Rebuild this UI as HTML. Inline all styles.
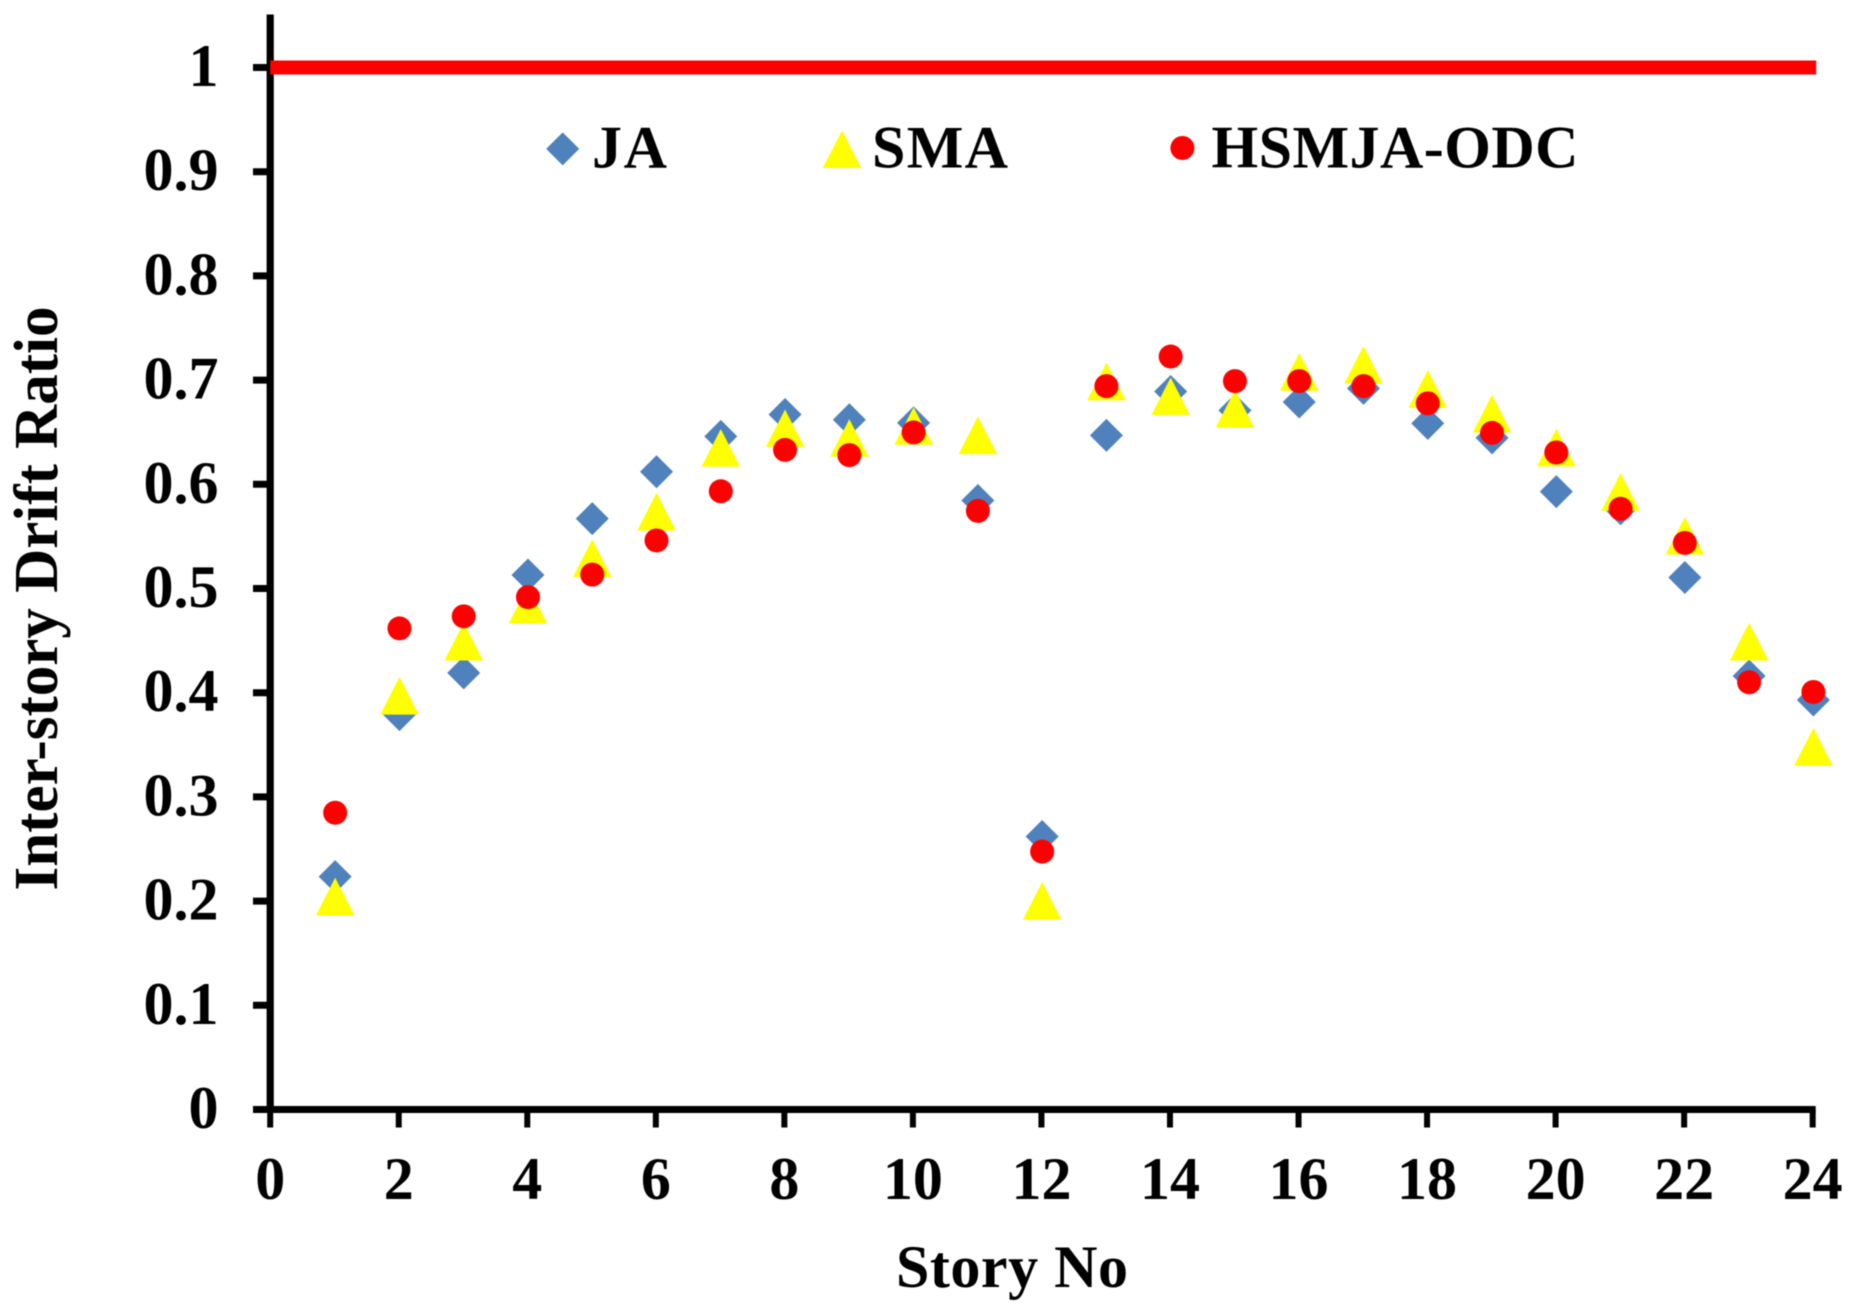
<!DOCTYPE html>
<html lang="en">
<head>
<meta charset="utf-8">
<title>Inter-story Drift Ratio by Story No</title>
<style>
  html, body { margin: 0; padding: 0; background: #fff; }
  #chart { display: block; width: 1856px; height: 1309px; filter: blur(0.6px); }
  text { font-family: "Liberation Serif", serif; font-weight: bold; fill: #000; font-size: 60px; }
</style>
</head>
<body>
<svg id="chart" xmlns="http://www.w3.org/2000/svg" width="1856" height="1309" viewBox="0 0 1856 1309">
  <rect x="0" y="0" width="1856" height="1309" fill="#ffffff"/>
  <g id="axes"></g>
  <g id="marks"></g>
  <g id="labels"></g>

  <text transform="translate(57 890.5) rotate(-90)" style="font-size:62px" textLength="584" lengthAdjust="spacingAndGlyphs">Inter-story Drift Ratio</text>
  <text x="896" y="1287" textLength="232" lengthAdjust="spacing">Story No</text>

  <g>
    <g>
      <polygon points="562.7,132.4 579.2,148.9 562.7,165.4 546.2,148.9" fill="#4f81bd"/>
      <text x="592" y="167.5" textLength="75" lengthAdjust="spacing">JA</text>
    </g>
    <g>
      <polygon points="842,130.5 861.2,168 822.8,168" fill="#ffff00"/>
      <text x="872" y="167.5" textLength="136" lengthAdjust="spacing">SMA</text>
    </g>
    <g>
      <circle cx="1182.4" cy="148" r="12" fill="#ff0000"/>
      <text x="1211.5" y="167.5" textLength="367" lengthAdjust="spacing">HSMJA-ODC</text>
    </g>
  </g>
</svg>

<script>
const stories = [1,2,3,4,5,6,7,8,9,10,11,12,13,14,15,16,17,18,19,20,21,22,23,24];
const jaValues = [0.2235,0.379,0.419,0.513,0.567,0.612,0.646,0.667,0.662,0.659,0.5845,0.262,0.647,0.689,0.671,0.679,0.692,0.6585,0.6445,0.593,0.5765,0.5105,0.416,0.393];
const smaValues = [0.2044,0.397,0.449,0.4845,0.529,0.5737,0.635,0.6538,0.6445,0.656,0.647,0.2002,0.6986,0.6845,0.6726,0.7078,0.7146,0.6914,0.6678,0.6353,0.5926,0.5505,0.449,0.348];
const hsmjaOdcValues = [0.2848,0.4617,0.4733,0.4917,0.5133,0.5461,0.5933,0.633,0.628,0.6498,0.5745,0.2475,0.6942,0.7226,0.699,0.699,0.6942,0.6777,0.6493,0.6305,0.5765,0.5437,0.41,0.4007];
const limitStart = [0, 1];
const limitEnd = [24, 1];
const xTickValues = [0,2,4,6,8,10,12,14,16,18,20,22,24];
const yTickValues = [0,0.1,0.2,0.3,0.4,0.5,0.6,0.7,0.8,0.9,1];
const yTickLabels = ['0','0.1','0.2','0.3','0.4','0.5','0.6','0.7','0.8','0.9','1'];

const SVG_NS = 'http://www.w3.org/2000/svg';
const X0 = 270.2, X_UNIT = 64.27, Y0 = 1109.5, Y_UNIT = 1042;
const MARK_SHIFT = 0.7;
function xScale(v) { return X0 + v * X_UNIT; }
function yScale(v) { return Y0 - v * Y_UNIT; }

function make(tag, attrs, parent) {
  const node = document.createElementNS(SVG_NS, tag);
  for (const k in attrs) node.setAttribute(k, attrs[k]);
  parent.appendChild(node);
  return node;
}

const axes = document.getElementById('axes');
const marks = document.getElementById('marks');
const labels = document.getElementById('labels');

const yAxis = make('line', {x1: X0, x2: X0, y1: 14.5, y2: Y0 + 3.5, stroke: '#000', 'stroke-width': 7.2}, axes);



const xAxis = make('line', {x1: 253, x2: xScale(24) + 3, y1: Y0, y2: Y0, stroke: '#000', 'stroke-width': 7}, axes);



yTickValues.forEach(function (v, i) {
  const y = yScale(v);
  const tick = make('line', {x1: 253, x2: X0, y1: y, y2: y, stroke: '#000', 'stroke-width': 7}, axes);
  
  
  const label = make('text', {x: 218.5, y: y + 18.5, 'text-anchor': 'end'}, labels);
  
  
  label.textContent = yTickLabels[i];
});

xTickValues.forEach(function (v) {
  const x = xScale(v);
  const tick = make('line', {x1: x, x2: x, y1: Y0, y2: 1127.5, stroke: '#000', 'stroke-width': 6}, axes);
  
  
  const label = make('text', {x: x, y: 1199, 'text-anchor': 'middle'}, labels);
  
  
  label.textContent = String(v);
});

const limitLine = make('line', {
  x1: xScale(limitStart[0]), y1: yScale(limitStart[1]),
  x2: xScale(limitEnd[0]) + 3.5, y2: yScale(limitEnd[1]),
  stroke: '#ff0000', 'stroke-width': 14
}, marks);



stories.forEach(function (s, i) {
  const x = xScale(s) + MARK_SHIFT;
  const y = yScale(jaValues[i]);
  const r = 16.5;
  const d = make('polygon', {points: [x, y - r, x + r, y, x, y + r, x - r, y].join(' '), fill: '#4f81bd'}, marks);
  
  
});

stories.forEach(function (s, i) {
  const x = xScale(s) + MARK_SHIFT;
  const y = yScale(smaValues[i]);
  const hw = 19.2, hh = 18.8;
  const t = make('polygon', {points: [x, y - hh, x + hw, y + hh, x - hw, y + hh].join(' '), fill: '#ffff00'}, marks);
  
  
});

stories.forEach(function (s, i) {
  const c = make('circle', {cx: xScale(s) + MARK_SHIFT, cy: yScale(hsmjaOdcValues[i]), r: 12, fill: '#ff0000'}, marks);
  
  
});
</script>
</body>
</html>
